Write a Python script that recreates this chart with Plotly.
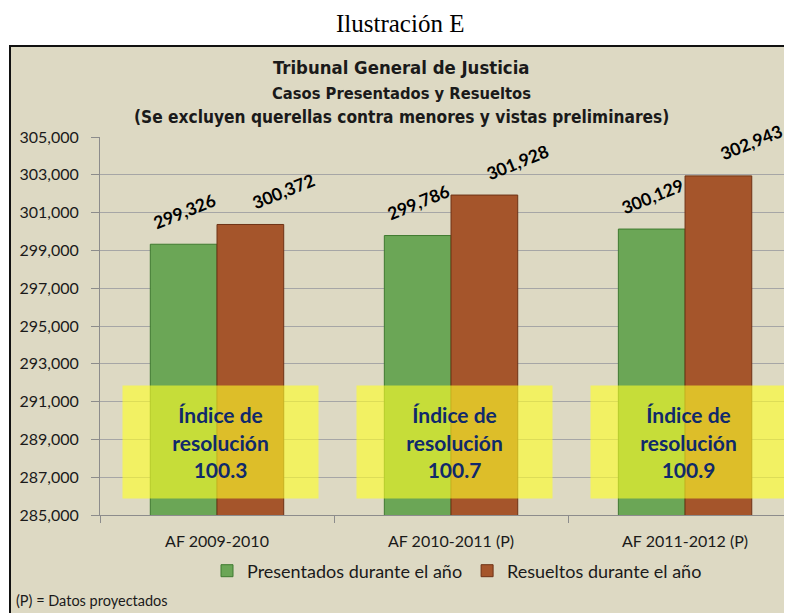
import plotly.graph_objects as go

categories = ["AF 2009-2010", "AF 2010-2011 (P)", "AF 2011-2012 (P)"]
presentados = [299326, 299786, 300129]
resueltos = [300372, 301928, 302943]
indice = [100.3, 100.7, 100.9]
series_names = ["Presentados durante el año", "Resueltos durante el año"]
y_ticks = list(range(285000, 305001, 2000))

W, H = 792, 613
OFF = 8  # page body margin: screen pixel = figure pixel + 8


def px(X):
    return (X - OFF) / W


def py(Y):
    return 1 - (Y - OFF) / H


GREEN = "#6BA656"
ORANGE = "#A5552B"
BEIGE = "#DDD9C3"

fig = go.Figure()
fig.add_trace(go.Bar(
    x=categories, y=presentados, name=series_names[0],
    marker=dict(color=GREEN, line=dict(color="#3F7A30", width=1)),
    hoverinfo="skip",
))
fig.add_trace(go.Bar(
    x=categories, y=resueltos, name=series_names[1],
    marker=dict(color=ORANGE, line=dict(color="#6E3215", width=1)),
    hoverinfo="skip",
))

annotations = []
lbl_font = dict(family="Lato", size=17.5, color="#000000", weight="bold")
for cat, v in zip(categories, presentados):
    annotations.append(dict(x=cat, y=v, xref="x", yref="y", text=f"{v:,}",
                            showarrow=False, textangle=-22, xshift=-33, yshift=33,
                            xanchor="center", yanchor="middle", font=lbl_font))
for cat, v in zip(categories, resueltos):
    annotations.append(dict(x=cat, y=v, xref="x", yref="y", text=f"{v:,}",
                            showarrow=False, textangle=-22, xshift=66, yshift=33,
                            xanchor="center", yanchor="middle", font=lbl_font))
for cat, ix in zip(categories, indice):
    annotations.append(dict(x=cat, y=py(442), xref="x", yref="paper",
                            text=f"Índice de<br>resolución<br>{ix:.1f}",
                            showarrow=False, xshift=3, width=195, height=112, borderpad=0,
                            xanchor="center", yanchor="middle",
                            bgcolor="rgba(255,255,40,0.62)",
                            font=dict(family="Lato", size=21, color="#10296B", weight="bold")))
annotations.append(dict(x=px(400), y=py(23), xref="paper", yref="paper", text="Ilustración E",
                        showarrow=False, xanchor="center", yanchor="middle",
                        font=dict(family="Liberation Serif", size=25, color="#000000")))
for txt, yy, fs in [("Tribunal General de Justicia", 67, 18.4),
                    ("Casos Presentados y Resueltos", 93, 16.4),
                    ("(Se excluyen querellas contra menores y vistas preliminares)", 117, 17.2)]:
    annotations.append(dict(x=px(401), y=py(yy), xref="paper", yref="paper", text=txt,
                            showarrow=False, xanchor="center", yanchor="middle",
                            font=dict(family="DejaVu Sans Condensed", size=fs, color="#1A1A1A",
                                      weight="bold")))
annotations.append(dict(x=px(14), y=py(600), xref="paper", yref="paper", xanchor="left",
                        yanchor="middle", text="(P) = Datos proyectados", showarrow=False,
                        font=dict(family="Lato", size=14.5, color="#1A1A1A")))

shapes = [dict(type="rect", xref="paper", yref="paper", x0=px(10), x1=1.02, y0=-0.02,
               y1=py(46), fillcolor=BEIGE, line=dict(color="#111111", width=2), layer="below")]

fig.update_layout(
    width=W, height=H, autosize=False,
    margin=dict(l=0, r=0, t=0, b=0, pad=0),
    paper_bgcolor="white", plot_bgcolor="white",
    barmode="group", bargap=0.43, bargroupgap=0,
    showlegend=True,
    legend=dict(orientation="h", x=px(207), y=py(571), xanchor="left", yanchor="middle",
                bgcolor="rgba(0,0,0,0)", font=dict(family="Lato", size=18, color="#1A1A1A"),
                itemwidth=30, traceorder="normal"),
    xaxis=dict(domain=[px(100), px(792)], range=[-0.5, 2.457], type="category",
               automargin=False,
               showline=True, linecolor="#8C8C8C", linewidth=1,
               ticks="outside", tickson="boundaries", ticklen=7, tickcolor="#8C8C8C",
               ticklabelstandoff=12,
               tickfont=dict(family="Lato", size=16, color="#1A1A1A"), showgrid=False),
    yaxis=dict(domain=[py(515), py(137)], range=[285000, 305000], automargin=False,
               tickvals=y_ticks, tickformat=",d",
               showline=True, linecolor="#8C8C8C", linewidth=1,
               ticks="outside", ticklen=8, tickcolor="#8C8C8C", ticklabelstandoff=9,
               showgrid=True, gridcolor="#A6A6A6", gridwidth=1, zeroline=False,
               tickfont=dict(family="Lato", size=16, color="#1A1A1A")),
    annotations=annotations,
    shapes=shapes,
)

fig.write_html("out.html")
